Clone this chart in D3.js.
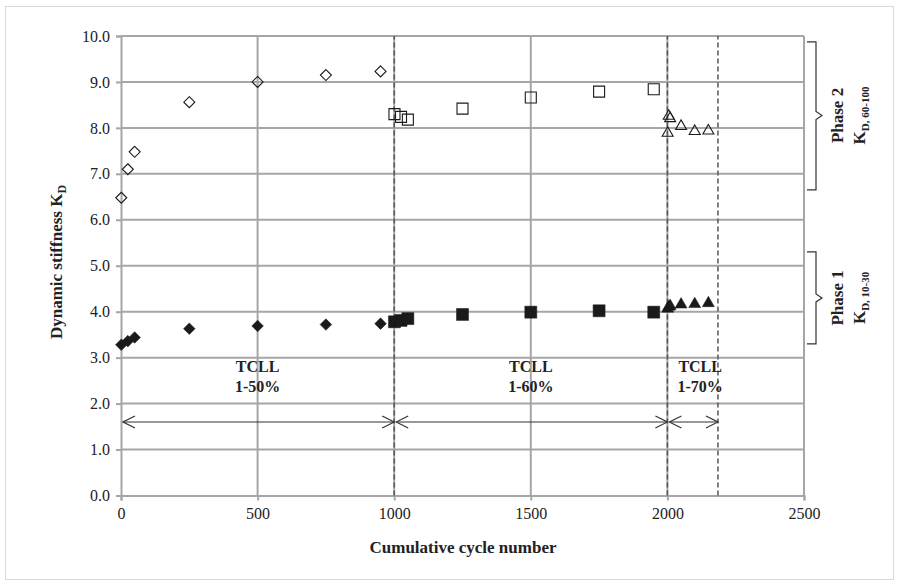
<!DOCTYPE html>
<html><head><meta charset="utf-8">
<script src="https://cdn.jsdelivr.net/npm/d3@7"></script>
<style>body{margin:0;background:#fff}text{font-family:"Liberation Serif","Times New Roman",serif}</style>
</head><body><svg id="c" width="899" height="586"></svg>
<script>
const xTicks=[0,500,1000,1500,2000,2500];
const yTicks=[0,1,2,3,4,5,6,7,8,9,10];
const diamondX=[1,25,50,250,500,750,950];
const diamondP2=[6.48,7.10,7.48,8.56,9.00,9.15,9.23];
const diamondP1=[3.28,3.36,3.44,3.63,3.69,3.72,3.74];
const squareX=[1001,1025,1050,1250,1500,1750,1950];
const squareP2=[8.30,8.24,8.18,8.42,8.66,8.79,8.84];
const squareP1=[3.78,3.81,3.85,3.94,3.99,4.02,3.99];
const triX=[2001,2005,2010,2050,2100,2150];
const triP2=[7.90,8.27,8.22,8.05,7.94,7.95];
const triP1=[4.08,4.12,4.14,4.17,4.18,4.20];
const bounds=[0,1000,2000,2185];
const arrowY=1.6;
const tcllLabels=["1-50%","1-60%","1-70%"];
const tcllX=[500,1500,2120];

const svg=d3.select("#c");
const x=d3.scaleLinear().domain([0,2500]).range([121,804]);
const y=d3.scaleLinear().domain([0,10]).range([495.5,36]);
const grid="#a6a6a6";

svg.append("rect").attr("x",5.5).attr("y",6.5).attr("width",888).attr("height",573)
  .attr("fill","#fff").attr("stroke","#d9d9d9");

// gridlines
svg.append("g").selectAll("line").data(yTicks.slice(1)).join("line")
  .attr("x1",x(0)).attr("x2",x(2500)).attr("y1",d=>y(d)).attr("y2",d=>y(d))
  .attr("stroke",grid).attr("stroke-width",2);
svg.append("g").selectAll("line").data(xTicks.slice(1)).join("line")
  .attr("x1",d=>x(d)).attr("x2",d=>x(d)).attr("y1",y(0)).attr("y2",y(10))
  .attr("stroke",grid).attr("stroke-width",2);

// axes
const ax=svg.append("g").attr("transform",`translate(0,${y(0)})`)
  .call(d3.axisBottom(x).tickValues(xTicks).tickFormat(d3.format("d")).tickSize(5).tickPadding(7));
const ay=svg.append("g").attr("transform",`translate(${x(0)},0)`)
  .call(d3.axisLeft(y).tickValues(yTicks).tickFormat(d3.format(".1f")).tickSize(5).tickPadding(6));
[ax,ay].forEach(g=>{
  g.select(".domain").attr("stroke",grid).attr("stroke-width",2);
  g.selectAll(".tick line").attr("stroke",grid).attr("stroke-width",2);
  g.selectAll(".tick text").attr("font-family","Liberation Serif").attr("font-size",16).attr("fill","#222");
});

// dashed boundaries
svg.append("g").selectAll("line").data(bounds.slice(1)).join("line")
  .attr("x1",d=>x(d)).attr("x2",d=>x(d)).attr("y1",y(0)).attr("y2",y(10))
  .attr("stroke","#555").attr("stroke-width",1.5).attr("stroke-dasharray","5,3");

// arrows
const defs=svg.append("defs");
defs.append("marker").attr("id","ah").attr("viewBox","0 0 14 14").attr("refX",13).attr("refY",7)
  .attr("markerWidth",14).attr("markerHeight",14).attr("markerUnits","userSpaceOnUse").attr("orient","auto-start-reverse")
  .append("path").attr("d","M1,1 L13,7 L1,13").attr("fill","none").attr("stroke","#333").attr("stroke-width",1.2);
const segs=d3.pairs(bounds);
svg.append("g").selectAll("line").data(segs).join("line")
  .attr("x1",d=>x(d[0])+2).attr("x2",d=>x(d[1])).attr("y1",y(arrowY)).attr("y2",y(arrowY))
  .attr("stroke","#333").attr("stroke-width",1.2)
  .attr("marker-start","url(#ah)").attr("marker-end","url(#ah)");

// TCLL labels
const tl=svg.append("g").attr("font-weight","bold").attr("font-size",16).attr("fill","#222").attr("text-anchor","middle");
tcllLabels.forEach((t,i)=>{
  tl.append("text").attr("x",x(tcllX[i])).attr("y",y(2.8)+5).text("TCLL");
  tl.append("text").attr("x",x(tcllX[i])).attr("y",y(2.36)+5).text(t);
});

// markers
const diamond=r=>`M0,${-r}L${r},0L0,${r}L${-r},0Z`;
const square=s=>`M${-s/2},${-s/2}h${s}v${s}h${-s}Z`;
const tri=w=>{const h=w*0.87;return `M0,${-h*0.6}L${w/2},${h*0.4}L${-w/2},${h*0.4}Z`;};
function plot(xs,ys,path,filled){
  svg.append("g").selectAll("path").data(xs.map((d,i)=>[d,ys[i]])).join("path")
    .attr("transform",d=>`translate(${x(d[0])},${y(d[1])})`).attr("d",path)
    .attr("fill",filled?"#1a1a1a":"none").attr("stroke","#1a1a1a").attr("stroke-width",filled?0.5:1.1);
}
plot(diamondX,diamondP2,diamond(5.5),false);
plot(squareX,squareP2,square(11),false);
plot(triX,triP2,tri(11),false);
plot(diamondX,diamondP1,diamond(5.8),true);
plot(squareX,squareP1,square(12),true);
plot(triX,triP1,tri(12),true);

// axis titles
svg.append("text").attr("x",463).attr("y",553).attr("text-anchor","middle").attr("font-weight","bold")
  .attr("font-size",17).attr("fill","#222").text("Cumulative cycle number");
const yt=svg.append("text").attr("transform","translate(62,262) rotate(-90)").attr("text-anchor","middle")
  .attr("font-weight","bold").attr("font-size",17).attr("fill","#222");
yt.append("tspan").text("Dynamic stiffness K");
yt.append("tspan").attr("font-size",12).attr("dy",4).text("D");

// braces
function brace(y0,y1,ym){
  const xa=807,xb=816,xt=822;
  svg.append("path").attr("d",`M${xa},${y0}H${xb}V${ym-4}L${xt},${ym}L${xb},${ym+4}V${y1}H${xa}`)
    .attr("fill","none").attr("stroke","#333").attr("stroke-width",1.2);
}
brace(y(9.87),y(6.65),y(8.27));
brace(y(5.3),y(3.3),y(4.3));

function phaseLabel(ym,ph,sub){
  svg.append("text").attr("transform",`translate(843,${ym}) rotate(-90)`).attr("text-anchor","middle")
    .attr("font-weight","bold").attr("font-size",17).attr("fill","#222").text(ph);
  const t=svg.append("text").attr("transform",`translate(865,${ym}) rotate(-90)`).attr("text-anchor","middle")
    .attr("font-weight","bold").attr("font-size",17).attr("fill","#222");
  t.append("tspan").text("K");
  t.append("tspan").attr("font-size",11).attr("dy",4).text(sub);
}
phaseLabel(y(8.27),"Phase 2","D, 60-100");
phaseLabel(y(4.3),"Phase 1","D, 10-30");
</script></body></html>
